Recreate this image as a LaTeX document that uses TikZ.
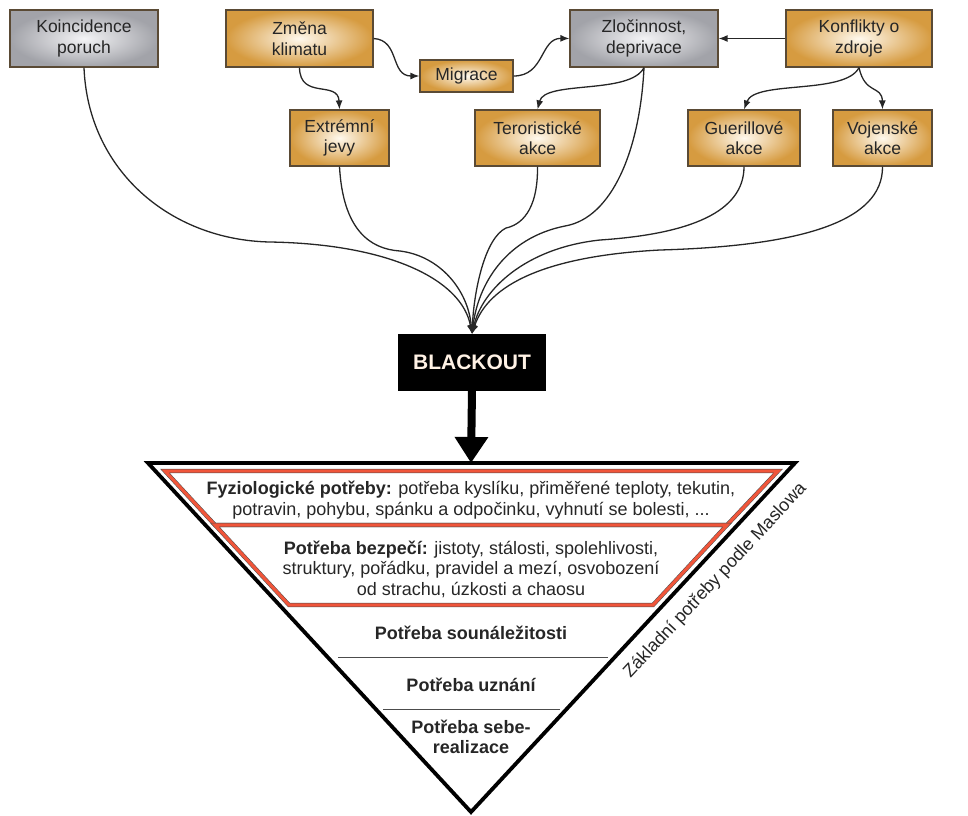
\documentclass[tikz,border=0pt]{standalone}
\usepackage{fontspec}
\setmainfont{Liberation Sans}
\usetikzlibrary{arrows.meta,calc}

\definecolor{goldE}{HTML}{D69B40}
\definecolor{goldC}{HTML}{FFF9EE}
\definecolor{grayE}{HTML}{A2A3A9}
\definecolor{grayC}{HTML}{F4F4F6}
\definecolor{boxline}{HTML}{5A4A35}
\definecolor{bandred}{HTML}{F0553A}

\tikzset{
  cause/.style={draw=boxline, line width=1.2pt, shading=radial,
    inner color=goldC, outer color=goldE, align=center,
    font=\fontsize{17.5}{20.5}\selectfont, text=black!85, inner sep=0pt},
  grey cause/.style={cause, inner color=grayC, outer color=grayE},
  link/.style={draw=black!85, line width=1.3pt,
    -{Latex[length=9pt,width=7pt]}},
  feed/.style={draw=black!85, line width=1.3pt,
    -{Latex[length=9pt,width=7pt]}},
  need/.style={align=center, font=\fontsize{18}{20.5}\selectfont, text=black!85},
  band/.style={draw=black!70, double=bandred, double distance=3.2pt, line width=0.5pt},
  layer/.style={draw=black!70, line width=1pt}
}

\begin{document}
\begin{tikzpicture}[x=1pt,y=-1pt]
\useasboundingbox (0,0) rectangle (968,815);

% causes, first row
\node[grey cause, minimum width=148pt, minimum height=57pt] (kp) at (84,38.5) {Koincidence\\poruch};
\node[cause, minimum width=147pt, minimum height=57pt] (zk) at (299.5,38.5) {Změna\\klimatu};
\node[cause, minimum width=93pt, minimum height=32pt] (mi) at (466.5,76) {Migrace};
\node[grey cause, minimum width=148pt, minimum height=57pt] (zd) at (644,38.5) {Zločinnost,\\deprivace};
\node[cause, minimum width=146pt, minimum height=57pt] (kz) at (859,38.5) {Konflikty o\\zdroje};

% causes, second row
\node[cause, minimum width=99pt, minimum height=56pt] (ej) at (339.5,138) {Extrémní\\jevy};
\node[cause, minimum width=125pt, minimum height=56pt] (ta) at (537.5,138) {Teroristické\\akce};
\node[cause, minimum width=112pt, minimum height=56pt] (ga) at (744,138) {Guerillové\\akce};
\node[cause, minimum width=99pt, minimum height=56pt] (va) at (882.5,138) {Vojenské\\akce};

% blackout
\node[fill=black, draw=black, minimum width=147pt, minimum height=56pt,
  text=white!90!orange, font=\fontsize{21}{24}\selectfont\bfseries] (bo) at (472,362) {BLACKOUT};
\coordinate (hit) at (472,334);

% links between causes
\draw[link] (zk.south) .. controls (300,100) and (338,80) .. (ej.north);
\draw[link] (zk.east) .. controls (400,40) and (390,76) .. (mi.west);
\draw[link] (mi.east) .. controls (545,76) and (540,38) .. (zd.west);
\draw[link] (kz.west) -- (zd.east);
\draw[link] (zd.south) .. controls (630,95) and (545,80) .. (ta.north);
\draw[link] (kz.south) .. controls (845,95) and (755,80) .. (ga.north);
\draw[link] (kz.south) .. controls (865,95) and (882,85) .. (va.north);

% everything feeds the blackout
\draw[feed] (kp.south) .. controls (88,170) and (170,240) .. (270,242)
                       .. controls (390,244) and (462,280) .. (hit);
\draw[feed] (ej.south) .. controls (343,230) and (370,249) .. (400,251)
                       .. controls (440,256) and (468,290) .. (hit);
\draw[feed] (ta.south) .. controls (538,212) and (520,225) .. (506,228)
                       .. controls (485,238) and (474,290) .. (hit);
\draw[feed] (zd.south) .. controls (640,150) and (612,218) .. (565,226)
                       .. controls (505,238) and (478,285) .. (hit);
\draw[feed] (ga.south) .. controls (744,212) and (690,234) .. (600,240)
                       .. controls (525,248) and (482,290) .. (hit);
\draw[feed] (va.south) .. controls (883,222) and (800,246) .. (660,250)
                       .. controls (545,256) and (488,285) .. (hit);

% inverted pyramid of needs
\coordinate (tl) at (148,463);
\coordinate (tr) at (795,463);
\coordinate (ap) at (471,812);
\coordinate (top) at (471,463);

\draw[band] (165,471) -- (778,471) -- (727,525) -- (215,525) -- cycle;
\draw[band] (215,525) -- (727,525) -- (653,605) -- (289,605) -- cycle;
\draw[layer] (338,657) -- (608,657);
\draw[layer] (383,709) -- (560,709);
\draw[black, line width=3.8pt, line join=miter] (tl) -- (tr) -- (ap) -- cycle;

\draw[black, line width=8pt, -{Triangle[length=26pt,width=32pt]}] (bo.south) -- (top);

\node[need] (n1) at (471,500) {\textbf{Fyziologické potřeby:} potřeba kyslíku, přiměřené teploty, tekutin,\\potravin, pohybu, spánku a odpočinku, vyhnutí se bolesti, ...};
\node[need] (n2) at (471,569) {\textbf{Potřeba bezpečí:} jistoty, stálosti, spolehlivosti,\\struktury, pořádku, pravidel a mezí, osvobození\\od strachu, úzkosti a chaosu};
\node[need, font=\fontsize{18}{20.5}\selectfont\bfseries] (n3) at (471,633) {Potřeba sounáležitosti};
\node[need, font=\fontsize{18}{20.5}\selectfont\bfseries] (n4) at (471,685) {Potřeba uznání};
\node[need, font=\fontsize{18}{20.5}\selectfont\bfseries] (n5) at (471,737) {Potřeba sebe-\\realizace};

\node[anchor=north, rotate=47.1, inner sep=2pt, font=\fontsize{18}{20}\selectfont, text=black!85]
  (ml) at ($(ap)!0.705!(tr)+(8,7.5)$) {Základní potřeby podle Maslowa};
\end{tikzpicture}
\end{document}
